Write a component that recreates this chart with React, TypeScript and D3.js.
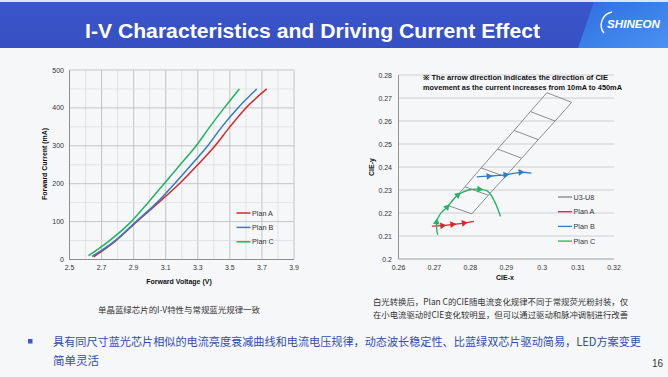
import React from "react";
import * as d3 from "d3";

// ---------- Left chart data (I-V) ----------
const currentA = [7, 50, 100, 150, 200, 250, 300, 350, 400, 450];
const voltageA = [2.65, 2.79, 2.92, 3.055, 3.185, 3.3, 3.408, 3.5, 3.6, 3.73];
const currentB = [8, 50, 100, 150, 200, 250, 300, 350, 400, 450];
const voltageB = [2.64, 2.785, 2.915, 3.045, 3.155, 3.26, 3.362, 3.45, 3.55, 3.668];
const currentC = [10, 50, 100, 150, 200, 250, 300, 350, 400, 450];
const voltageC = [2.618, 2.75, 2.885, 2.99, 3.09, 3.19, 3.29, 3.375, 3.465, 3.56];
const ivSeriesNames = ["Plan A", "Plan B", "Plan C"];
const ivXTicks = [2.5, 2.7, 2.9, 3.1, 3.3, 3.5, 3.7, 3.9];
const ivYTicks = [0, 100, 200, 300, 400, 500];

// ---------- Right chart data (CIE) ----------
const cieAx = [0.2693, 0.2722, 0.275, 0.2782, 0.281];
const cieAy = [0.2143, 0.2145, 0.215, 0.2156, 0.2164];
const cieAArrows = [1, 2, 3];
const cieBx = [0.2818, 0.2851, 0.2898, 0.294, 0.297];
const cieBy = [0.2357, 0.236, 0.2366, 0.2377, 0.2373];
const cieBArrows = [1, 2, 3];
const cieCx = [0.2709, 0.2706, 0.2716, 0.2735, 0.2765, 0.2795, 0.2825, 0.2848, 0.2866, 0.2884];
const cieCy = [0.2105, 0.216, 0.2195, 0.2225, 0.2278, 0.23, 0.2303, 0.2295, 0.2255, 0.2185];
const cieCArrows = [1, 3, 4, 6];
// U3-U8 bin boundaries (left edge and right edge points)
const binLeftX = [0.2739, 0.2785, 0.283, 0.2876, 0.2922, 0.2967, 0.3013];
const binLeftY = [0.2232, 0.2314, 0.2396, 0.2478, 0.2559, 0.2641, 0.2723];
const binRightX = [0.2804, 0.285, 0.2897, 0.2943, 0.2989, 0.3036, 0.3082];
const binRightY = [0.2196, 0.2277, 0.2358, 0.2438, 0.2519, 0.26, 0.2681];
const cieLegend = ["U3-U8", "Plan A", "Plan B", "Plan C"];
const cieXTicks = [0.26, 0.27, 0.28, 0.29, 0.3, 0.31, 0.32];
const cieYTicks = [0.2, 0.21, 0.22, 0.23, 0.24, 0.25, 0.26, 0.27, 0.28];

const RED = "#d9262c";
const BLUE = "#2f7dc6";
const GREEN = "#22b35e";
const GRAYLINE = "#808080";
const FONT = "'Liberation Sans', Arial, sans-serif";
const CJK = "'Noto Sans CJK SC', sans-serif";

export default function App() {
  // Left scales
  const xL = d3.scaleLinear().domain([2.5, 3.9]).range([69.5, 294]);
  const yL = d3.scaleLinear().domain([0, 500]).range([259.5, 70]);
  // Right scales
  const xR = d3.scaleLinear().domain([0.26, 0.32]).range([398.5, 614]);
  const yR = d3.scaleLinear().domain([0.2, 0.28]).range([259, 75]);

  const ivLine = d3
    .line<[number, number]>()
    .x((d) => xL(d[0]))
    .y((d) => yL(d[1]))
    .curve(d3.curveMonotoneX);

  const ivSeries = [
    { v: voltageA, i: currentA, color: RED },
    { v: voltageB, i: currentB, color: BLUE },
    { v: voltageC, i: currentC, color: GREEN },
  ];

  const cieLine = d3
    .line<[number, number]>()
    .x((d) => xR(d[0]))
    .y((d) => yR(d[1]))
    .curve(d3.curveCatmullRom.alpha(0.5));

  const cieSeries = [
    { x: cieAx, y: cieAy, arrows: cieAArrows, color: RED },
    { x: cieBx, y: cieBy, arrows: cieBArrows, color: BLUE },
    { x: cieCx, y: cieCy, arrows: cieCArrows, color: GREEN },
  ];

  const tri = d3.symbol().type(d3.symbolTriangle).size(20)() || "";

  const minorX = d3.range(2.5, 3.9001, 0.1);
  const minorY = d3.range(0, 500.1, 50);

  const binOutline: [number, number][] = [
    ...binLeftX.map((x, k) => [x, binLeftY[k]] as [number, number]),
    ...binRightX.map((x, k) => [x, binRightY[k]] as [number, number]).reverse(),
  ];
  const polyLine = d3
    .line<[number, number]>()
    .x((d) => xR(d[0]))
    .y((d) => yR(d[1]));

  const ivLegendColors = [RED, BLUE, GREEN];
  const cieLegendColors = [GRAYLINE, RED, BLUE, GREEN];

  return (
    <svg
      width={668}
      height={377}
      style={{ position: "absolute", left: 0, top: 0, display: "block" }}
      fontFamily={FONT}
    >
      <defs>
        <linearGradient id="bar" x1="0" x2="0" y1="0" y2="1">
          <stop offset="0" stopColor="#3a56cb" />
          <stop offset="1" stopColor="#3450c2" />
        </linearGradient>
        <linearGradient id="logo" x1="0" x2="1" y1="0" y2="1">
          <stop offset="0" stopColor="#2e6ee0" />
          <stop offset="1" stopColor="#4a92f2" />
        </linearGradient>
      </defs>
      <rect x={0} y={0} width={668} height={377} fill="#f6f7f9" />
      {/* Title bar */}
      <rect x={0} y={0} width={668} height={48} fill="url(#bar)" />
      <rect x={0} y={0} width={668} height={2} fill="#dfe5f4" />
      <polygon points="594,2 668,2 668,48 578,48" fill="url(#logo)" />
      <text
        x={85}
        y={38}
        fill="#ffffff"
        fontSize={20}
        fontWeight="bold"
        textLength={455}
        lengthAdjust="spacingAndGlyphs"
      >
        I-V Characteristics and Driving Current Effect
      </text>
      <path d="M612,12 C602,14 598,26 604,33" fill="none" stroke="#ffffff" strokeWidth={1.4} />
      <text x={607} y={28} fill="#ffffff" fontSize={10} fontWeight="bold" fontStyle="italic" textLength={53} lengthAdjust="spacingAndGlyphs">
        SHINEON
      </text>

      {/* ---------- Left chart ---------- */}
      <g>
        {minorX.map((v, k) => (
          <line
            key={"gx" + k}
            x1={xL(v)}
            x2={xL(v)}
            y1={yL(0)}
            y2={yL(500)}
            stroke={k % 2 === 0 ? "#b8b8b8" : "#dedede"}
            strokeWidth={0.8}
          />
        ))}
        {minorY.map((v, k) => (
          <line
            key={"gy" + k}
            x1={xL(2.5)}
            x2={xL(3.9)}
            y1={yL(v)}
            y2={yL(v)}
            stroke={k % 2 === 0 ? "#b8b8b8" : "#dedede"}
            strokeWidth={0.8}
          />
        ))}
        <line x1={xL(2.5)} x2={xL(2.5)} y1={yL(0)} y2={yL(500)} stroke="#888" strokeWidth={0.9} />
        <line x1={xL(2.5)} x2={xL(3.9)} y1={yL(0)} y2={yL(0)} stroke="#888" strokeWidth={0.9} />
        {ivXTicks.map((t) => (
          <text key={"xt" + t} x={xL(t)} y={270} fontSize={7} fill="#333" textAnchor="middle">
            {t.toFixed(1)}
          </text>
        ))}
        {ivYTicks.map((t) => (
          <text key={"yt" + t} x={64} y={yL(t) + 2.5} fontSize={7} fill="#333" textAnchor="end">
            {t}
          </text>
        ))}
        {ivSeries.map((s, k) => (
          <path
            key={"iv" + k}
            d={ivLine(s.v.map((v, j) => [v, s.i[j]] as [number, number])) || ""}
            fill="none"
            stroke={s.color}
            strokeWidth={1.5}
          />
        ))}
        {ivSeriesNames.map((n, k) => (
          <g key={"lg" + k}>
            <line x1={236.5} x2={250.5} y1={213 + k * 14.4} y2={213 + k * 14.4} stroke={ivLegendColors[k]} strokeWidth={1.5} />
            <text x={252} y={215.5 + k * 14.4} fontSize={7.2} fill="#333">
              {n}
            </text>
          </g>
        ))}
        <text
          transform="translate(46.5,164) rotate(-90)"
          fontSize={7}
          fontWeight="bold"
          fill="#111"
          textAnchor="middle"
          textLength={72}
          lengthAdjust="spacingAndGlyphs"
        >
          Forward Current (mA)
        </text>
        <text x={179} y={284} fontSize={7} fontWeight="bold" fill="#111" textAnchor="middle">
          Forward Voltage (V)
        </text>
      </g>

      {/* ---------- Right chart ---------- */}
      <g>
        {cieYTicks.map((t, k) => (
          <line
            key={"cg" + k}
            x1={xR(0.26)}
            x2={xR(0.32)}
            y1={yR(t)}
            y2={yR(t)}
            stroke={k === 0 ? "#888" : "#c4c4c4"}
            strokeWidth={0.8}
          />
        ))}
        <line x1={xR(0.26)} x2={xR(0.26)} y1={yR(0.2)} y2={yR(0.28)} stroke="#888" strokeWidth={0.9} />
        {cieXTicks.map((t) => (
          <text key={"cx" + t} x={xR(t)} y={270} fontSize={7} fill="#333" textAnchor="middle">
            {String(t)}
          </text>
        ))}
        {cieYTicks.map((t) => (
          <text key={"cy" + t} x={392} y={yR(t) + 2.5} fontSize={7} fill="#333" textAnchor="end">
            {String(t)}
          </text>
        ))}
        {/* U3-U8 bins */}
        <path d={(polyLine(binOutline) || "") + "Z"} fill="none" stroke={GRAYLINE} strokeWidth={0.9} />
        {binLeftX.map((x, k) =>
          k === 0 || k === binLeftX.length - 1 ? null : (
            <line
              key={"bin" + k}
              x1={xR(x)}
              y1={yR(binLeftY[k])}
              x2={xR(binRightX[k])}
              y2={yR(binRightY[k])}
              stroke={GRAYLINE}
              strokeWidth={0.9}
            />
          )
        )}
        {cieSeries.map((s, k) => {
          const pts = s.x.map((x, j) => [x, s.y[j]] as [number, number]);
          return (
            <g key={"cie" + k}>
              <path d={cieLine(pts) || ""} fill="none" stroke={s.color} strokeWidth={1.3} />
              {s.arrows.map((j) => {
                const p0 = pts[Math.max(0, j - 1)];
                const p1 = pts[Math.min(pts.length - 1, j + 1)];
                const ang = (Math.atan2(yR(p1[1]) - yR(p0[1]), xR(p1[0]) - xR(p0[0])) * 180) / Math.PI + 90;
                return (
                  <path
                    key={"ar" + j}
                    d={tri}
                    fill={s.color}
                    transform={`translate(${xR(pts[j][0])},${yR(pts[j][1])}) rotate(${ang})`}
                  />
                );
              })}
            </g>
          );
        })}
        {cieLegend.map((n, k) => (
          <g key={"cl" + k}>
            <line x1={558} x2={572} y1={197 + k * 14.7} y2={197 + k * 14.7} stroke={cieLegendColors[k]} strokeWidth={1.3} />
            <text x={573.5} y={199.5 + k * 14.7} fontSize={7.2} fill="#333">
              {n}
            </text>
          </g>
        ))}
        <text x={423} y={80} fontSize={7.2} fontWeight="bold" fill="#111" textLength={185} lengthAdjust="spacingAndGlyphs">
          ※ The arrow direction indicates the direction of CIE
        </text>
        <text x={423} y={90} fontSize={7.2} fontWeight="bold" fill="#111" textLength={199} lengthAdjust="spacingAndGlyphs">
          movement as the current increases from 10mA to 450mA
        </text>
        <text
          transform="translate(374,167) rotate(-90)"
          fontSize={7}
          fontWeight="bold"
          fill="#111"
          textAnchor="middle"
        >
          CIE-y
        </text>
        <text x={505} y={280} fontSize={7} fontWeight="bold" fill="#111" textAnchor="middle">
          CIE-x
        </text>
      </g>

      {/* Captions */}
      <text x={98} y={313} fontSize={8.5} fill="#333" fontFamily={CJK} textLength={162} lengthAdjust="spacingAndGlyphs">
        单晶蓝绿芯片的I-V特性与常规蓝光规律一致
      </text>
      <text x={373} y={305} fontSize={8.5} fill="#333" fontFamily={CJK} textLength={255} lengthAdjust="spacingAndGlyphs">
        白光转换后，Plan C的CIE随电流变化规律不同于常规荧光粉封装，仅
      </text>
      <text x={373} y={318} fontSize={8.5} fill="#333" fontFamily={CJK} textLength={255} lengthAdjust="spacingAndGlyphs">
        在小电流驱动时CIE变化较明显，但可以通过驱动和脉冲调制进行改善
      </text>

      {/* Bullet text */}
      <rect x={28} y={339} width={4.5} height={4.5} fill="#3a5bc4" />
      <text x={53} y={346} fontSize={11.5} fill="#2f4db3" fontFamily={CJK} textLength={588} lengthAdjust="spacingAndGlyphs">
        具有同尺寸蓝光芯片相似的电流亮度衰减曲线和电流电压规律，动态波长稳定性、比蓝绿双芯片驱动简易，LED方案变更
      </text>
      <text x={53} y={365} fontSize={11.5} fill="#2f4db3" fontFamily={CJK}>
        简单灵活
      </text>
      <text x={652} y={367} fontSize={10} fill="#333">
        16
      </text>
    </svg>
  );
}
